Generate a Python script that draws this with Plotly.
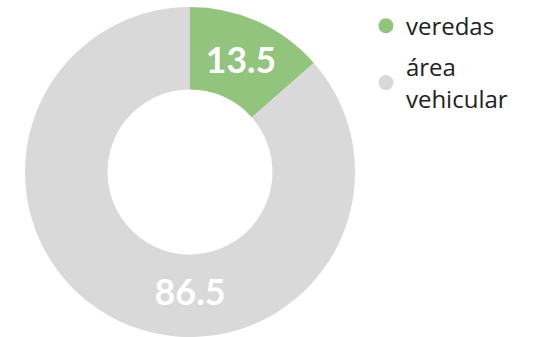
import plotly.graph_objects as go

# Share of street surface (percent)
categories = ["veredas", "área<br>vehicular"]
shares = [13.5, 86.5]
colors = ["#93c47d", "#d9d9d9"]

fig = go.Figure()

fig.add_trace(go.Pie(
    labels=categories,
    values=shares,
    hole=0.5,
    sort=False,
    direction="clockwise",
    rotation=0,
    marker=dict(colors=colors, line=dict(width=0)),
    texttemplate="%{value}",
    textposition="inside",
    insidetextorientation="horizontal",
    textfont=dict(family="Lato", size=36, color="white", weight="bold"),
    domain=dict(x=[25 / 535, 355 / 535], y=[0, 1]),
    showlegend=False,
    hoverinfo="skip",
))

# Legend entries with round swatches, one group each for spacing
for name, col in zip(categories, colors):
    fig.add_trace(go.Scatter(
        x=[None], y=[None], mode="markers", name=name,
        legendgroup=name,
        marker=dict(symbol="circle", size=15, color=col),
    ))

fig.update_layout(
    width=535, height=337,
    margin=dict(l=0, r=0, t=7, b=0),
    paper_bgcolor="white", plot_bgcolor="white",
    xaxis=dict(visible=False), yaxis=dict(visible=False),
    legend=dict(
        x=0.684, y=1.01, xanchor="left", yanchor="top",
        font=dict(family="Open Sans", size=24, color="#222222"),
        bgcolor="rgba(0,0,0,0)",
        tracegroupgap=7,
    ),
)

fig.write_html("out.html")
